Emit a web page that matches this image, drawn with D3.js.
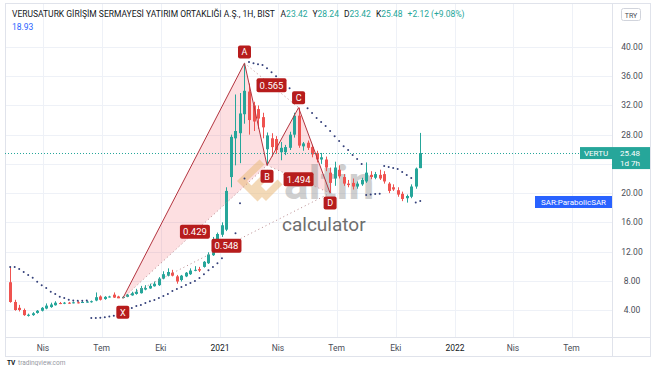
<!DOCTYPE html>
<html>
<head>
<meta charset="utf-8">
<script src="https://cdn.jsdelivr.net/npm/d3@7"></script>
<style>
  body { margin: 0; background: #fff; }
  svg { display: block; font-family: Roboto, 'Open Sans', sans-serif; }
</style>
</head>
<body>
<svg width="654" height="366"></svg>
<script>
// Weekly bars (1H = 1 hafta), first bar on Monday 10 Feb 2020
const startDate = Date.UTC(2020, 1, 10)

const open = [7.8, 5.1, 4.3, 4.0, 3.2, 3.3, 3.6, 3.9, 4.2, 4.4, 4.65, 4.95, 4.9, 5.0, 4.95, 5.05, 5.0, 5.1, 5.15, 5.3,
  5.85, 5.5, 5.8, 6.1, 5.85, 5.65, 5.8, 6.0, 6.2, 6.3, 6.8, 6.95, 7.25, 7.4, 8.3, 8.7, 9.1, 8.6, 8.1, 8.6,
  8.9, 9.4, 9.6, 9.9, 10.4, 11.5, 13.0, 14.3, 15.0, 22.2, 27.5, 28.2, 30.8, 33.9, 32.0, 31.5, 30.4, 26.0, 27.5, 27.4,
  25.6, 25.6, 26.2, 28.0, 30.6, 26.4, 26.9, 26.3, 25.5, 24.6, 24.6, 22.8, 22.0, 23.2, 22.2, 21.3, 21.4, 20.9, 21.2, 21.6,
  22.5, 22.1, 22.5, 22.6, 21.3, 20.8, 20.4, 19.9, 19.3, 19.5, 20.9, 23.42]
const high = [9.9, 5.4, 4.7, 4.2, 3.5, 3.7, 4.0, 4.4, 4.9, 5.0, 5.2, 5.1, 5.1, 5.1, 5.15, 5.2, 5.2, 5.25, 5.3, 6.4,
  6.0, 5.9, 5.95, 6.4, 5.95, 5.9, 6.2, 6.5, 6.9, 7.3, 7.4, 7.6, 7.9, 8.5, 9.3, 9.7, 9.5, 8.8, 8.8, 9.2,
  9.7, 10.0, 9.9, 10.7, 11.9, 14.0, 14.6, 16.0, 20.8, 28.0, 33.5, 33.7, 37.8, 35.0, 32.5, 32.0, 31.0, 28.3, 28.2, 27.8,
  27.0, 26.6, 28.4, 31.0, 31.7, 27.0, 27.2, 26.6, 25.8, 25.5, 25.0, 23.5, 24.3, 23.8, 22.6, 21.8, 22.0, 21.6, 22.1, 24.2,
  23.0, 22.9, 23.2, 23.0, 21.5, 21.2, 20.8, 20.2, 19.8, 21.2, 23.5, 28.24]
const low = [5.0, 3.9, 3.8, 3.2, 3.1, 3.2, 3.5, 3.8, 4.1, 4.3, 4.6, 4.8, 4.8, 4.85, 4.9, 4.9, 4.95, 5.0, 5.0, 5.2,
  5.3, 5.4, 5.7, 5.65, 5.62, 5.6, 5.75, 5.95, 6.1, 6.25, 6.7, 6.9, 7.2, 7.3, 8.2, 8.6, 8.6, 7.6, 7.9, 8.5,
  8.8, 9.3, 9.2, 9.8, 10.3, 11.4, 12.6, 14.0, 14.8, 20.8, 23.8, 24.1, 29.5, 28.0, 28.5, 28.8, 27.5, 23.8, 25.0, 25.4,
  24.5, 25.2, 25.9, 27.6, 26.2, 25.8, 25.9, 24.9, 24.2, 24.0, 23.0, 20.0, 21.0, 22.0, 21.0, 20.8, 20.5, 20.6, 21.0, 21.4,
  21.9, 21.9, 21.8, 21.3, 20.0, 20.3, 19.5, 18.9, 18.7, 19.3, 20.6, 23.42]
const close = [5.1, 4.0, 4.0, 3.3, 3.35, 3.55, 3.9, 4.3, 4.6, 4.75, 5.0, 4.9, 5.0, 4.95, 5.05, 5.0, 5.1, 5.15, 5.2, 5.75,
  5.4, 5.8, 5.85, 5.7, 5.6, 5.8, 6.1, 6.3, 6.5, 7.0, 7.0, 7.3, 7.6, 8.3, 8.9, 9.2, 8.7, 7.9, 8.7, 9.1,
  9.4, 9.5, 9.4, 10.6, 11.6, 13.3, 14.4, 15.6, 20.3, 27.7, 28.5, 30.9, 34.0, 30.0, 29.8, 30.2, 29.0, 27.9, 26.3, 25.9,
  26.2, 26.3, 28.0, 30.6, 26.5, 26.8, 26.2, 25.3, 24.6, 24.9, 23.5, 21.4, 23.5, 22.3, 21.3, 21.1, 20.9, 21.3, 21.8, 22.8,
  22.2, 22.6, 22.0, 21.6, 20.3, 20.5, 19.8, 19.2, 19.6, 20.9, 23.36, 25.48]
// Parabolic SAR, one dot per bar
const sar = [9.9, 9.88, 9.6, 9.2, 8.8, 8.4, 7.85, 7.4, 7.0, 6.5, 6.2, 5.8, 5.65, 5.4, 5.3, 5.25, 5.25, 5.3, 2.9, 2.92,
  2.95, 3.0, 3.1, 3.2, 3.35, 3.6, 3.86, 4.27, 4.55, 4.7, 4.96, 5.2, 5.37, 5.64, 5.92, 6.2, 6.6, 6.87, 7.15, 7.42,
  7.69, 7.97, 8.38, 8.9, 9.45, 9.9, 10.4, 11.1, 12.1, 13.2, 14.5, 18.6, 22.0, 37.93, 37.79, 37.65, 37.52, 37.1, 36.56, 36.01,
  35.46, 34.92, 34.37, 33.69, 33.0, 32.32, 31.63, 30.95, 30.27, 29.72, 29.17, 28.49, 27.8, 27.12, 26.43, 25.89, 25.2, 24.66, 23.97, 19.73,
  19.8, 19.87, 19.9, 23.7, 23.56, 23.43, 23.29, 22.88, 22.47, 22.06, 18.7, 18.93]

// XABCD pattern
const patternNames = ['X', 'A', 'B', 'C', 'D']
const patternBars = [25, 52, 57, 64, 71]
const patternPrices = [5.6, 37.8, 23.8, 31.7, 20.0]
const ratioPairs = [[0, 2], [1, 3], [2, 4], [0, 4]]
const ratioTexts = ['0.429', '0.565', '1.494', '0.548']

const xTickDates = [Date.UTC(2020, 3, 1), Date.UTC(2020, 6, 1), Date.UTC(2020, 9, 1), Date.UTC(2021, 0, 1),
  Date.UTC(2021, 3, 1), Date.UTC(2021, 6, 1), Date.UTC(2021, 9, 1), Date.UTC(2022, 0, 1),
  Date.UTC(2022, 3, 1), Date.UTC(2022, 6, 1)]
const xTickLabels = ['Nis', 'Tem', 'Eki', '2021', 'Nis', 'Tem', 'Eki', '2022', 'Nis', 'Tem']
const yTicks = [4, 8, 12, 16, 20, 28, 32, 36, 40]
const yGrid = [4, 8, 12, 16, 20, 24, 28, 32, 36, 40]

const lastPrice = 25.48
const sarLast = 18.93

// Layout
const plotLeft = 5
const plotRight = 612
const plotTop = 3
const plotBottom = 337
const frameBottom = 356
const green = '#26a69a'
const red = '#ef5350'

const svg = d3.select('svg')
const week = 7 * 24 * 3600 * 1000
const bars = open.map((o, i) => ({
  date: new Date(startDate + i * week),
  o, h: high[i], l: low[i], c: close[i], s: sar[i]
}))

const x = d3.scaleUtc()
  .domain([new Date(Date.UTC(2020, 3, 1)), new Date(Date.UTC(2022, 0, 1))])
  .range([43, 455])
const y = d3.scaleLinear().domain([4, 40]).range([310, 47])
const bx = (i) => x(bars[i].date)

// Grid
const grid = svg.append('g').attr('stroke', '#eef1f7').attr('stroke-width', 1)
grid.selectAll('.vg').data(xTickDates).join('line')
  .attr('x1', (d) => Math.round(x(d)) + 0.5).attr('x2', (d) => Math.round(x(d)) + 0.5)
  .attr('y1', plotTop).attr('y2', plotBottom)
grid.selectAll('.hg').data(yGrid).join('line')
  .attr('x1', plotLeft).attr('x2', plotRight)
  .attr('y1', (d) => Math.round(y(d)) + 0.5).attr('y2', (d) => Math.round(y(d)) + 0.5)

// Frame and axis separators
const frame = svg.append('g').attr('stroke', '#e0e3eb').attr('fill', 'none')
frame.append('rect').attr('x', plotLeft + 0.5).attr('y', plotTop + 0.5)
  .attr('width', 650 - plotLeft).attr('height', frameBottom - plotTop)
frame.append('line').attr('x1', plotRight + 0.5).attr('x2', plotRight + 0.5)
  .attr('y1', plotTop).attr('y2', frameBottom)
frame.append('line').attr('x1', plotLeft).attr('x2', 650)
  .attr('y1', plotBottom + 0.5).attr('y2', plotBottom + 0.5)

// Pattern fills (XAB, BCD)
const pt = (k) => [bx(patternBars[k]), y(patternPrices[k])]
const fills = svg.append('g')
;[[0, 1, 2], [2, 3, 4]].forEach((tri) => {
  fills.append('path')
    .attr('d', 'M' + tri.map((k) => pt(k).join(',')).join('L') + 'Z')
    .attr('fill', 'rgba(242,54,69,0.16)')
})

// Watermark logo behind candles
const wm = svg.append('g')
wm.append('path')
  .attr('d', 'M262,162 L242,181 L260,199 M270,172 L256,186 L266,196 L280,182')
  .attr('fill', 'none').attr('stroke', '#e9b97c').attr('stroke-width', 7)
  .attr('stroke-linejoin', 'miter').attr('opacity', 0.55)

// Candles
const candles = svg.append('g')
candles.selectAll('line').data(bars).join('line')
  .attr('x1', (d) => Math.round(x(d.date)) + 0.5).attr('x2', (d) => Math.round(x(d.date)) + 0.5)
  .attr('y1', (d) => y(d.h)).attr('y2', (d) => y(d.l))
  .attr('stroke', (d) => (d.c >= d.o ? green : red))
candles.selectAll('rect').data(bars).join('rect')
  .attr('x', (d) => Math.round(x(d.date)) - 1)
  .attr('width', 3)
  .attr('y', (d) => y(Math.max(d.o, d.c)))
  .attr('height', (d) => Math.max(1, Math.abs(y(d.o) - y(d.c))))
  .attr('fill', (d) => (d.c >= d.o ? green : red))

// Big watermark letters
wm.append('text').attr('x', 284).attr('y', 199)
  .attr('font-size', 46).attr('font-weight', 700)
  .attr('fill', '#8a8a8a').attr('opacity', 0.4).text('altin')
svg.append('text').attr('x', 282).attr('y', 231)
  .attr('font-size', 19).attr('fill', '#6e6e6e').text('calculator')

// Parabolic SAR dots
svg.append('g').selectAll('circle').data(bars).join('circle')
  .attr('cx', (d) => x(d.date)).attr('cy', (d) => y(d.s)).attr('r', 1)
  .attr('fill', '#34407a')

// Last price line
svg.append('line')
  .attr('x1', plotLeft).attr('x2', 580)
  .attr('y1', Math.round(y(lastPrice)) + 0.5).attr('y2', Math.round(y(lastPrice)) + 0.5)
  .attr('stroke', green).attr('stroke-dasharray', '1,2')

// Pattern lines
const lines = svg.append('g')
for (let k = 0; k < 4; k++) {
  lines.append('line')
    .attr('x1', pt(k)[0]).attr('y1', pt(k)[1]).attr('x2', pt(k + 1)[0]).attr('y2', pt(k + 1)[1])
    .attr('stroke', '#b3343f').attr('stroke-width', 1)
}
ratioPairs.forEach(([a, b]) => {
  lines.append('line')
    .attr('x1', pt(a)[0]).attr('y1', pt(a)[1]).attr('x2', pt(b)[0]).attr('y2', pt(b)[1])
    .attr('stroke', '#b88a8e').attr('stroke-dasharray', '1,3')
})

// Ratio labels
ratioPairs.forEach(([a, b], i) => {
  const cx = (pt(a)[0] + pt(b)[0]) / 2
  const cy = (pt(a)[1] + pt(b)[1]) / 2
  const g = svg.append('g')
  g.append('rect').attr('x', cx - 15).attr('y', cy - 7).attr('width', 30).attr('height', 14)
    .attr('rx', 2).attr('fill', '#b71c1c')
  g.append('text').attr('x', cx).attr('y', cy + 3.5).attr('text-anchor', 'middle')
    .attr('font-size', 9.5).attr('fill', '#fff').text(ratioTexts[i])
})

// Point labels
const labelOffset = [14, -11, 11, -10, 10]
patternNames.forEach((n, k) => {
  const cx = pt(k)[0]
  const cy = pt(k)[1] + labelOffset[k]
  const g = svg.append('g')
  g.append('rect').attr('x', cx - 6.5).attr('y', cy - 6.5).attr('width', 13).attr('height', 13)
    .attr('rx', 2).attr('fill', '#b71c1c')
  g.append('text').attr('x', cx).attr('y', cy + 3.2).attr('text-anchor', 'middle')
    .attr('font-size', 9).attr('fill', '#fff').text(n)
})

// Right axis
const axisText = svg.append('g').attr('font-size', 8.5).attr('fill', '#4a4d57')
axisText.selectAll('text').data(yTicks).join('text')
  .attr('x', 632).attr('y', (d) => y(d) + 3).attr('text-anchor', 'middle')
  .text((d) => d.toFixed(2))

// Bottom axis
const xText = svg.append('g').attr('font-size', 8.5).attr('fill', '#4a4d57')
xText.selectAll('text').data(xTickDates).join('text')
  .attr('x', (d) => x(d)).attr('y', 351).attr('text-anchor', 'middle')
  .attr('fill', (d, i) => (/^\d/.test(xTickLabels[i]) ? '#131722' : '#4a4d57'))
  .text((d, i) => xTickLabels[i])

// Currency box
svg.append('rect').attr('x', 621.5).attr('y', 8.5).attr('width', 19).attr('height', 12)
  .attr('rx', 2).attr('fill', '#fff').attr('stroke', '#d1d4dc')
svg.append('text').attr('x', 631).attr('y', 17.5).attr('text-anchor', 'middle')
  .attr('font-size', 7).attr('fill', '#4a4d57').text('TRY')

// Price labels
const py = y(lastPrice)
svg.append('rect').attr('x', 580).attr('y', py - 6).attr('width', 32).attr('height', 12).attr('fill', green)
svg.append('text').attr('x', 596).attr('y', py + 3).attr('text-anchor', 'middle')
  .attr('font-size', 8).attr('fill', '#fff').text('VERTU')
svg.append('rect').attr('x', 612).attr('y', py - 6).attr('width', 38).attr('height', 22).attr('fill', green)
svg.append('text').attr('x', 630).attr('y', py + 3).attr('text-anchor', 'middle')
  .attr('font-size', 8).attr('fill', '#fff').text(lastPrice.toFixed(2))
svg.append('text').attr('x', 630).attr('y', py + 13).attr('text-anchor', 'middle')
  .attr('font-size', 8).attr('fill', '#fff').text('1d 7h')

const sy = 202
svg.append('rect').attr('x', 535).attr('y', sy - 6).attr('width', 77).attr('height', 12).attr('fill', '#2962ff')
svg.append('text').attr('x', 573.5).attr('y', sy + 3).attr('text-anchor', 'middle')
  .attr('font-size', 8).attr('fill', '#fff').text('SAR:ParabolicSAR')

// Header
const head = svg.append('text').attr('x', 12).attr('y', 17).attr('font-size', 8.5).attr('fill', '#131722')
head.append('tspan').text('VERUSATURK GİRİŞİM SERMAYESİ YATIRIM ORTAKLIĞI A.Ş., 1H, BIST')
const last = bars[bars.length - 1]
const prevClose = close[close.length - 2]
const chg = last.c - prevClose
const ohlc = [['A', last.o], ['Y', last.h], ['D', last.l], ['K', last.c]]
ohlc.forEach(([k, v], i) => {
  head.append('tspan').attr('dx', i === 0 ? 6 : 5).text(k)
  head.append('tspan').attr('fill', green).text(v.toFixed(2))
})
head.append('tspan').attr('dx', 5).attr('fill', green)
  .text('+' + chg.toFixed(2) + ' (+' + (chg / prevClose * 100).toFixed(2) + '%)')
svg.append('text').attr('x', 12).attr('y', 30).attr('font-size', 8.5).attr('fill', '#2962ff')
  .text(sarLast.toFixed(2))

// Footer (cut by the picture's lower edge, as in the screenshot)
svg.append('text').attr('x', 7).attr('y', 364.5).attr('font-size', 6.5).attr('font-weight', 700)
  .attr('fill', '#131722').text('TV')
svg.append('text').attr('x', 18).attr('y', 364.5).attr('font-size', 6.5)
  .attr('fill', '#9598a1').text('tradingview.com')
</script>
</body>
</html>
